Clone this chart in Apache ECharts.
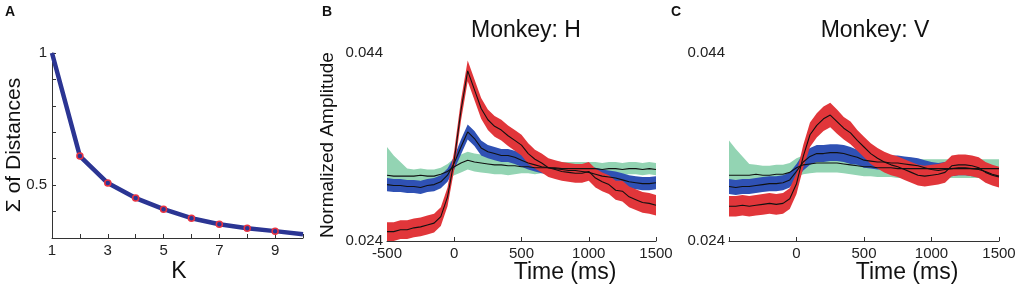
<!DOCTYPE html>
<html>
<head>
<meta charset="utf-8">
<script src="https://cdn.jsdelivr.net/npm/echarts@6.0.0/dist/echarts.min.js"></script>
<style>
  html, body { margin: 0; padding: 0; background: #fff; }
  #main { width: 1028px; height: 297px; }
</style>
</head>
<body>
<div id="main"></div>
<script>
// panel A: elbow curve
const kVals = [1, 2, 3, 4, 5, 6, 7, 8, 9, 10];
const sumDist = [1.0, 0.61, 0.508, 0.451, 0.409, 0.375, 0.352, 0.337, 0.326, 0.314];

// time base (ms) shared by panels B and C
const tAxis = [-500,-450,-400,-350,-300,-250,-200,-150,-100,-50,0,50,100,150,200,250,300,350,400,450,500,550,600,650,700,750,800,850,900,950,1000,1050,1100,1150,1200,1250,1300,1350,1400,1450,1500];

// panel B, monkey H
const greenMeanB = [0.0310,0.0309,0.0309,0.0309,0.0309,0.0310,0.0309,0.0309,0.0311,0.0314, 0.0319,0.0323,0.0326,0.0324,0.0323,0.0322,0.0321,0.0321,0.0320,0.0320, 0.0319,0.0319,0.0318,0.0318,0.0318,0.0318,0.0317,0.0317,0.0317,0.0317, 0.0317,0.0317,0.0316,0.0317,0.0317,0.0316,0.0317,0.0317,0.0316,0.0317, 0.0316];
const greenUpB = [0.0030,0.0022,0.0015,0.0008,0.0007,0.0007,0.0007,0.0007,0.0007,0.0008, 0.0009,0.0009,0.0009,0.0009,0.0009,0.0009,0.0009,0.0009,0.0009,0.0009, 0.0008,0.0008,0.0007,0.0007,0.0007,0.0007,0.0007,0.0007,0.0007,0.0007, 0.0007,0.0007,0.0007,0.0007,0.0007,0.0007,0.0007,0.0007,0.0007,0.0007, 0.0007];
const greenDnB = [0.0009,0.0008,0.0007,0.0006,0.0006,0.0006,0.0006,0.0006,0.0006,0.0008, 0.0009,0.0010,0.0010,0.0010,0.0010,0.0010,0.0010,0.0010,0.0010,0.0009, 0.0007,0.0007,0.0007,0.0006,0.0006,0.0006,0.0006,0.0006,0.0006,0.0006, 0.0006,0.0006,0.0006,0.0006,0.0006,0.0006,0.0006,0.0006,0.0006,0.0006, 0.0006];
const blueMeanB = [0.0300,0.0299,0.0299,0.0298,0.0298,0.0297,0.0299,0.0300,0.0303,0.0310, 0.0323,0.0340,0.0356,0.0349,0.0339,0.0335,0.0333,0.0331,0.0331,0.0329, 0.0326,0.0323,0.0321,0.0319,0.0318,0.0317,0.0316,0.0315,0.0315,0.0314, 0.0313,0.0311,0.0309,0.0308,0.0307,0.0305,0.0303,0.0302,0.0301,0.0301, 0.0302];
const blueSdB = [0.0007,0.0007,0.0007,0.0007,0.0007,0.0007,0.0007,0.0007,0.0007,0.0007, 0.0007,0.0008,0.0008,0.0008,0.0008,0.0007,0.0007,0.0007,0.0007,0.0007, 0.0007,0.0007,0.0007,0.0007,0.0007,0.0007,0.0007,0.0007,0.0007,0.0007, 0.0007,0.0007,0.0007,0.0007,0.0007,0.0007,0.0007,0.0007,0.0007,0.0007, 0.0007];
const redMeanB = [0.0250,0.0250,0.0252,0.0252,0.0254,0.0255,0.0257,0.0259,0.0266,0.0287, 0.0326,0.0379,0.0421,0.0401,0.0381,0.0369,0.0362,0.0358,0.0352,0.0347, 0.0342,0.0333,0.0327,0.0323,0.0318,0.0316,0.0314,0.0313,0.0312,0.0312, 0.0314,0.0307,0.0303,0.0300,0.0294,0.0293,0.0287,0.0284,0.0281,0.0280, 0.0278];
const redSdB = [0.0010,0.0010,0.0010,0.0010,0.0010,0.0010,0.0010,0.0010,0.0010,0.0010, 0.0010,0.0011,0.0011,0.0011,0.0011,0.0011,0.0011,0.0011,0.0011,0.0011, 0.0011,0.0011,0.0010,0.0010,0.0010,0.0010,0.0010,0.0010,0.0010,0.0010, 0.0010,0.0010,0.0010,0.0010,0.0010,0.0011,0.0011,0.0011,0.0011,0.0011, 0.0011];

// panel C, monkey V
const greenMeanC = [0.0310,0.0310,0.0310,0.0310,0.0311,0.0310,0.0310,0.0311,0.0311,0.0313, 0.0318,0.0321,0.0322,0.0323,0.0323,0.0323,0.0323,0.0322,0.0321,0.0320, 0.0319,0.0319,0.0318,0.0318,0.0318,0.0317,0.0317,0.0317,0.0317,0.0317, 0.0317,0.0317,0.0317,0.0317,0.0317,0.0317,0.0317,0.0317,0.0317,0.0317, 0.0317];
const greenUpC = [0.0037,0.0028,0.0020,0.0012,0.0010,0.0010,0.0010,0.0010,0.0010,0.0010, 0.0010,0.0010,0.0010,0.0010,0.0010,0.0010,0.0010,0.0010,0.0010,0.0010, 0.0010,0.0010,0.0010,0.0010,0.0010,0.0010,0.0010,0.0010,0.0010,0.0010, 0.0010,0.0010,0.0010,0.0010,0.0010,0.0010,0.0010,0.0010,0.0010,0.0010, 0.0010];
const greenDnC = [0.0010,0.0010,0.0010,0.0010,0.0010,0.0010,0.0010,0.0010,0.0010,0.0010, 0.0010,0.0010,0.0010,0.0010,0.0010,0.0010,0.0010,0.0010,0.0010,0.0010, 0.0010,0.0010,0.0010,0.0010,0.0010,0.0010,0.0010,0.0010,0.0010,0.0010, 0.0010,0.0010,0.0010,0.0010,0.0010,0.0010,0.0010,0.0010,0.0010,0.0010, 0.0010];
const blueMeanC = [0.0298,0.0297,0.0298,0.0298,0.0299,0.0300,0.0301,0.0301,0.0302,0.0305, 0.0314,0.0324,0.0330,0.0333,0.0333,0.0334,0.0334,0.0333,0.0331,0.0329, 0.0326,0.0325,0.0324,0.0324,0.0323,0.0323,0.0322,0.0321,0.0320,0.0318, 0.0316,0.0315,0.0316,0.0317,0.0318,0.0318,0.0317,0.0316,0.0314,0.0311, 0.0309];
const blueSdC = [0.0008,0.0008,0.0008,0.0008,0.0008,0.0008,0.0008,0.0008,0.0008,0.0008, 0.0008,0.0009,0.0009,0.0009,0.0009,0.0009,0.0009,0.0009,0.0009,0.0008, 0.0008,0.0008,0.0008,0.0008,0.0008,0.0008,0.0008,0.0008,0.0008,0.0008, 0.0008,0.0008,0.0008,0.0008,0.0008,0.0008,0.0008,0.0008,0.0008,0.0008, 0.0008];
const redMeanC = [0.0277,0.0277,0.0278,0.0277,0.0278,0.0279,0.0280,0.0279,0.0280,0.0285, 0.0301,0.0330,0.0353,0.0363,0.0370,0.0374,0.0367,0.0360,0.0355,0.0347, 0.0340,0.0333,0.0328,0.0324,0.0321,0.0319,0.0316,0.0313,0.0310,0.0309, 0.0310,0.0311,0.0313,0.0320,0.0321,0.0321,0.0320,0.0318,0.0313,0.0310, 0.0308];
const redSdC = [0.0011,0.0011,0.0011,0.0011,0.0011,0.0011,0.0011,0.0011,0.0011,0.0011, 0.0011,0.0012,0.0013,0.0013,0.0013,0.0013,0.0013,0.0012,0.0012,0.0011, 0.0011,0.0011,0.0011,0.0011,0.0011,0.0011,0.0011,0.0011,0.0011,0.0011, 0.0011,0.0011,0.0011,0.0011,0.0011,0.0011,0.0011,0.0011,0.0011,0.0011, 0.0011];

const FONT = 'Liberation Sans';
const GREEN = '#93d4b3', BLUE = '#2f51b4', RED = '#e1363a', NAVY = '#2b3593';

function axisBase(extra) {
  return Object.assign({
    type: 'value',
    axisLine: { lineStyle: { color: '#333', width: 1 } },
    axisTick: { inside: true, length: 4, lineStyle: { color: '#333' } },
    splitLine: { show: false },
    axisLabel: { color: '#222', fontSize: 15, fontFamily: FONT, margin: 5 }
  }, extra);
}

const near = (a, b) => Math.abs(a - b) < 1e-7;

// time axes are categories so the bands can stack on y
function timeAxis(grid, hideFirst) {
  return {
    type: 'category', gridIndex: grid, data: tAxis.map(String), boundaryGap: false,
    axisLine: { lineStyle: { color: '#333', width: 1 } },
    axisTick: { inside: true, length: 4, interval: 9, lineStyle: { color: '#333' } },
    splitLine: { show: false },
    axisLabel: { color: '#222', fontSize: 15, fontFamily: FONT, margin: 5, interval: 9,
      formatter: v => (hideFirst && v === '-500' ? '' : v) }
  };
}

// band = lower edge (hidden) + stacked width (filled)
function band(idx, mean, dn, up, color, key) {
  const lo = mean.map((m, i) => m - dn[i]);
  const w = mean.map((m, i) => dn[i] + up[i]);
  const common = { type: 'line', xAxisIndex: idx, yAxisIndex: idx, stack: key, symbol: 'none', silent: true, lineStyle: { opacity: 0 } };
  return [
    Object.assign({}, common, { data: lo }),
    Object.assign({}, common, { data: w, areaStyle: { color: color, opacity: 1 } })
  ];
}
function meanLine(idx, mean) {
  return { type: 'line', xAxisIndex: idx, yAxisIndex: idx, symbol: 'none', silent: true,
    data: mean, lineStyle: { color: '#111', width: 1.1 } };
}

const elbowData = kVals.map((k, i) => {
  const item = { value: [k, sumDist[i]] };
  if (k === 1 || k === 10) item.symbol = 'none';
  return item;
});

const series = [
  { type: 'line', xAxisIndex: 0, yAxisIndex: 0, data: elbowData,
    lineStyle: { color: NAVY, width: 4.5 }, symbol: 'circle', symbolSize: 6,
    itemStyle: { color: NAVY, borderColor: '#ea3340', borderWidth: 1.5 } },
  ...band(1, greenMeanB, greenDnB, greenUpB, GREEN, 'gB'), meanLine(1, greenMeanB),
  ...band(1, blueMeanB, blueSdB, blueSdB, BLUE, 'bB'), meanLine(1, blueMeanB),
  ...band(1, redMeanB, redSdB, redSdB, RED, 'rB'), meanLine(1, redMeanB),
  ...band(2, greenMeanC, greenDnC, greenUpC, GREEN, 'gC'), meanLine(2, greenMeanC),
  ...band(2, blueMeanC, blueSdC, blueSdC, BLUE, 'bC'), meanLine(2, blueMeanC),
  ...band(2, redMeanC, redSdC, redSdC, RED, 'rC'), meanLine(2, redMeanC)
];

function txt(text, x, y, size, opts) {
  opts = opts || {};
  return {
    type: 'text', x: x, y: y, rotation: opts.rot || 0, silent: true,
    style: { text: text, fill: '#111', fontSize: size, fontFamily: FONT, fontWeight: opts.bold ? 'bold' : 'normal',
      align: 'center', verticalAlign: 'middle', textAlign: 'center', textVerticalAlign: 'middle' }
  };
}

const ampLabel = v => near(v, 0.044) ? '0.044' : near(v, 0.024) ? '0.024' : '';

const option = {
  animation: false,
  backgroundColor: '#fff',
  grid: [
    { left: 52, top: 53, width: 251, height: 185 },
    { left: 387, top: 53, width: 269, height: 188 },
    { left: 729, top: 53, width: 270, height: 188 }
  ],
  xAxis: [
    axisBase({ gridIndex: 0, min: 1, max: 10, interval: 1,
      axisLabel: { color: '#222', fontSize: 15, fontFamily: FONT, margin: 5, formatter: v => (v % 2 === 1 ? String(v) : '') } }),
    timeAxis(1, false),
    timeAxis(2, true)
  ],
  yAxis: [
    axisBase({ gridIndex: 0, min: 0.3, max: 1, interval: 0.1,
      axisLabel: { color: '#222', fontSize: 15, fontFamily: FONT, margin: 5, formatter: v => near(v, 1) ? '1' : near(v, 0.5) ? '0.5' : '' } }),
    axisBase({ gridIndex: 1, min: 0.024, max: 0.044, interval: 0.002,
      axisLabel: { color: '#222', fontSize: 15, fontFamily: FONT, margin: 4, formatter: ampLabel } }),
    axisBase({ gridIndex: 2, min: 0.024, max: 0.044, interval: 0.002,
      axisLabel: { color: '#222', fontSize: 15, fontFamily: FONT, margin: 4, formatter: ampLabel } })
  ],
  graphic: [
    txt('A', 10, 12, 14, { bold: true }),
    txt('B', 327, 12, 14, { bold: true }),
    txt('C', 676, 12, 14, { bold: true }),
    txt('Σ of Distances', 14, 145, 21, { rot: Math.PI / 2 }),
    txt('K', 179, 272, 23),
    txt('Normalized Amplitude', 328, 145, 19, { rot: Math.PI / 2 }),
    txt('Monkey: H', 526, 31, 23),
    txt('Time (ms)', 565, 273, 23),
    txt('Monkey: V', 875, 31, 23),
    txt('Time (ms)', 907, 273, 23)
  ],
  series: series
};

const chart = echarts.init(document.getElementById('main'), null, { renderer: 'canvas' });
chart.setOption(option);
</script>
</body>
</html>
